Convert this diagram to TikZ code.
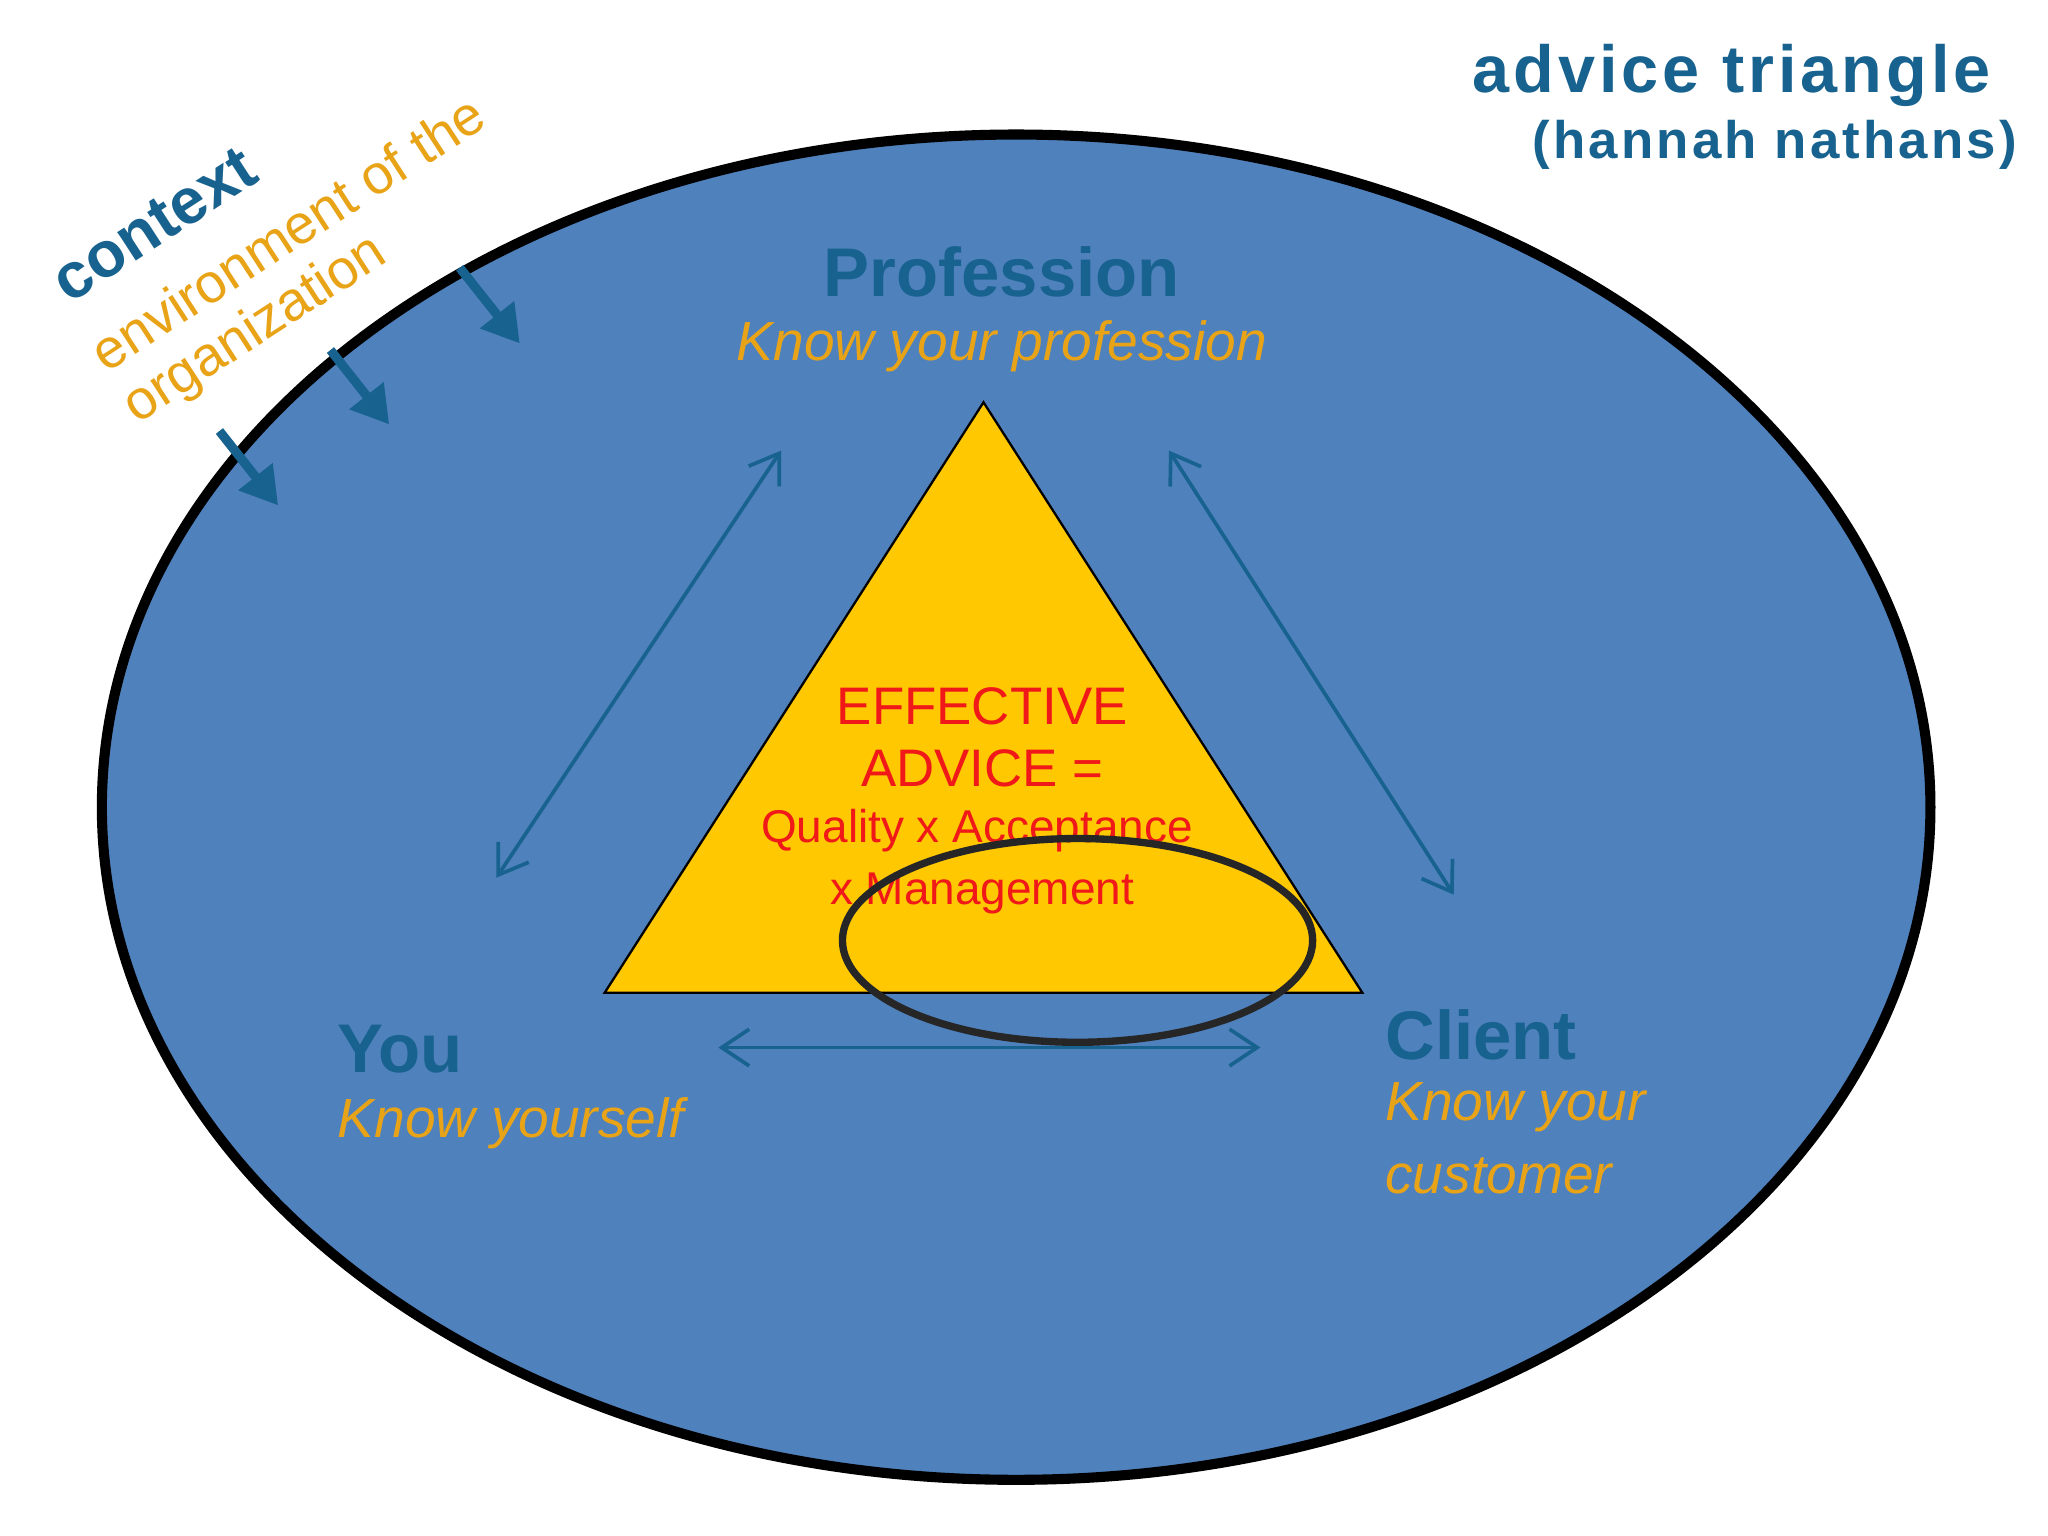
\documentclass[tikz,border=0pt]{standalone}
\usepackage{fontspec}
\setmainfont{Liberation Sans}
\usetikzlibrary{arrows.meta}
\definecolor{ellfill}{HTML}{4F81BD}
\definecolor{dblue}{HTML}{17628E}
\definecolor{orng}{HTML}{E8A317}
\definecolor{tri}{HTML}{FFC800}
\definecolor{redt}{HTML}{F01818}
\tikzset{
 head/.style={font=\bfseries\fontsize{15}{17}\selectfont,text=dblue,inner sep=0},
 sub/.style={font=\itshape\fontsize{12}{15}\selectfont,text=orng,inner sep=0},
 dbl/.style={draw=dblue,line width=0.8pt,{Straight Barb[length=6pt,width=8pt]}-{Straight Barb[length=6pt,width=8pt]}},
 ctx/.style={draw=dblue,line width=2pt,-{Triangle[length=8pt,width=9pt]}},
 redtxt/.style={text=redt,inner sep=0}
}
\begin{document}
\begin{tikzpicture}[x=0.01cm,y=-0.01cm]
\useasboundingbox[fill=white] (0,0) rectangle (1568,1176);
\draw[fill=ellfill,line width=2.2pt] (778,618) ellipse [x radius=700,y radius=515];
\draw[fill=tri,line width=0.5pt] (753,308) -- (1043,760) -- (463,760) -- cycle;
\node[redtxt,font=\fontsize{11.5}{14}\selectfont] (e1) at (752,541) {EFFECTIVE};
\node[redtxt,font=\fontsize{11.5}{14}\selectfont] (e2) at (752,588) {ADVICE =};
\node[redtxt,font=\fontsize{10}{12}\selectfont] (e3) at (748,636) {Quality x Acceptance};
\node[redtxt,font=\fontsize{10}{12}\selectfont] (e4) at (752,684) {x Management};
\draw[line width=1.6pt,black!85] (825,720) ellipse [x radius=180,y radius=78];
\node[head] (prof) at (767,208) {Profession};
\node[sub] (kp) at (767,265) {Know your profession};
\node[head,anchor=west] (you) at (258,803) {You};
\node[sub,anchor=west] (ky) at (258,860) {Know yourself};
\node[head,anchor=west] (cl) at (1060,792) {Client};
\node[sub,anchor=west] (kc1) at (1060,848) {Know your};
\node[sub,anchor=west] (kc2) at (1060,900) {customer};
\node[font=\bfseries\fontsize{14.5}{17}\selectfont\addfontfeature{LetterSpace=6},text=dblue,anchor=east,inner sep=0] (t1) at (1525,58) {advice triangle};
\node[font=\bfseries\fontsize{11.5}{14}\selectfont\addfontfeature{LetterSpace=6},text=dblue,anchor=east,inner sep=0] (t2) at (1545,111) {(hannah nathans)};
\node[font=\bfseries\fontsize{14}{16}\selectfont,text=dblue,rotate=33,inner sep=0] (ctx) at (118,172) {context};
\node[font=\fontsize{12}{14}\selectfont,text=orng,rotate=33,inner sep=0] (env1) at (220,178) {environment of the};
\node[font=\fontsize{12}{14}\selectfont,text=orng,rotate=33,inner sep=0] (env2) at (196,253) {organization};
\coordinate (a1s) at (352,205); \coordinate (a1e) at (398,263);
\coordinate (a2s) at (253,268); \coordinate (a2e) at (298,325);
\coordinate (a3s) at (168,330); \coordinate (a3e) at (213,387);
\draw[ctx] (a1s) -- (a1e);
\draw[ctx] (a2s) -- (a2e);
\draw[ctx] (a3s) -- (a3e);
\coordinate (p1) at (598,345); \coordinate (y1) at (380,672);
\coordinate (p2) at (895,345); \coordinate (c1) at (1113,685);
\coordinate (y2) at (550,802); \coordinate (c2) at (965,802);
\draw[dbl] (p1) -- (y1);
\draw[dbl] (p2) -- (c1);
\draw[dbl] (y2) -- (c2);
\end{tikzpicture}
\end{document}
